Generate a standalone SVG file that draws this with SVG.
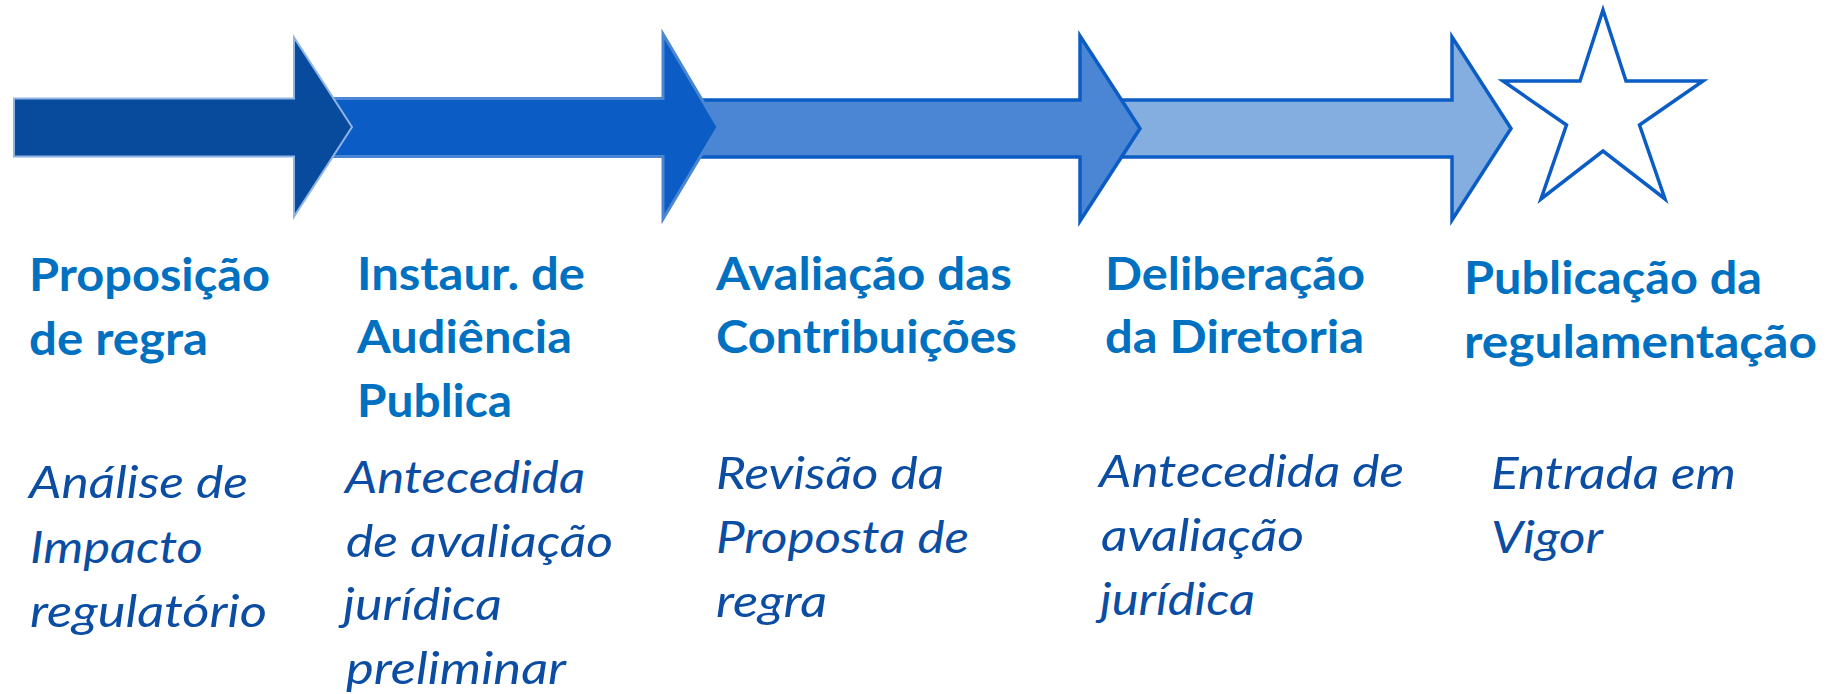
<svg xmlns="http://www.w3.org/2000/svg" width="1839" height="694" viewBox="0 0 1839 694">
<style>
.h{font-family:Lato,"Liberation Sans",sans-serif;font-weight:bold;font-size:45px;fill:#0070C0}
.d{font-family:Lato,"Liberation Sans",sans-serif;font-style:italic;font-size:45px;fill:#0B4DA2}
</style>
<rect width="1839" height="694" fill="#ffffff"/>
<g id="connectors">
<polygon id="arrow4" points="1100,100 1452,100 1452,37 1511,128.5 1452,220 1452,157 1100,157" fill="#84ADE0" stroke="#0B5CC4" stroke-width="3.5"/>
<polygon id="arrow3" points="680,100 1080,100 1080,36 1140,128.5 1080,221 1080,157 680,157" fill="#4A86D4" stroke="#0B5CC4" stroke-width="3.5"/>
<polygon id="arrow2" points="300,98.5 663,98.5 663,34 718,127 663,219 663,156.5 300,156.5" fill="#0B5CC4" stroke="#4A86D4" stroke-width="3"/>
<polygon id="arrow1" points="14,98.5 294,98.5 294,37.5 352,127 294,216.5 294,156.5 14,156.5" fill="#084A9C" stroke="#8DB4E6" stroke-width="2"/>
</g>
<g id="star">
<polygon points="1603,10 1626,81 1703,81 1639.5,125 1665,199 1603,151 1541,199 1566.5,125 1503,81 1580,81" fill="#ffffff" stroke="#0B5CC4" stroke-width="3.5"/>
</g>
<g id="step1">
<text class="h" x="29" y="291" textLength="241" lengthAdjust="spacingAndGlyphs">Proposição</text>
<text class="h" x="29" y="355" textLength="179" lengthAdjust="spacingAndGlyphs">de regra</text>
<text class="d" x="29" y="498" textLength="219" lengthAdjust="spacingAndGlyphs">Análise de</text>
<text class="d" x="30" y="563" textLength="173" lengthAdjust="spacingAndGlyphs">Impacto</text>
<text class="d" x="30" y="627" textLength="237" lengthAdjust="spacingAndGlyphs">regulatório</text>
</g>
<g id="step2">
<text class="h" x="357" y="290" textLength="228" lengthAdjust="spacingAndGlyphs">Instaur. de</text>
<text class="h" x="357" y="353" textLength="215" lengthAdjust="spacingAndGlyphs">Audiência</text>
<text class="h" x="357" y="417" textLength="155" lengthAdjust="spacingAndGlyphs">Publica</text>
<text class="d" x="345" y="493" textLength="240" lengthAdjust="spacingAndGlyphs">Antecedida</text>
<text class="d" x="346" y="557" textLength="267" lengthAdjust="spacingAndGlyphs">de avaliação</text>
<text class="d" x="343" y="620" textLength="159" lengthAdjust="spacingAndGlyphs">jurídica</text>
<text class="d" x="346" y="684" textLength="220" lengthAdjust="spacingAndGlyphs">preliminar</text>
</g>
<g id="step3">
<text class="h" x="716" y="290" textLength="296" lengthAdjust="spacingAndGlyphs">Avaliação das</text>
<text class="h" x="716" y="353" textLength="301" lengthAdjust="spacingAndGlyphs">Contribuições</text>
<text class="d" x="716" y="489" textLength="228" lengthAdjust="spacingAndGlyphs">Revisão da</text>
<text class="d" x="716" y="553" textLength="253" lengthAdjust="spacingAndGlyphs">Proposta de</text>
<text class="d" x="716" y="617" textLength="111" lengthAdjust="spacingAndGlyphs">regra</text>
</g>
<g id="step4">
<text class="h" x="1105" y="290" textLength="260" lengthAdjust="spacingAndGlyphs">Deliberação</text>
<text class="h" x="1105" y="353" textLength="259" lengthAdjust="spacingAndGlyphs">da Diretoria</text>
<text class="d" x="1099" y="487" textLength="305" lengthAdjust="spacingAndGlyphs">Antecedida de</text>
<text class="d" x="1101" y="551" textLength="203" lengthAdjust="spacingAndGlyphs">avaliação</text>
<text class="d" x="1100" y="615" textLength="155" lengthAdjust="spacingAndGlyphs">jurídica</text>
</g>
<g id="step5">
<text class="h" x="1464" y="294" textLength="298" lengthAdjust="spacingAndGlyphs">Publicação da</text>
<text class="h" x="1464" y="358" textLength="353" lengthAdjust="spacingAndGlyphs">regulamentação</text>
<text class="d" x="1491" y="489" textLength="245" lengthAdjust="spacingAndGlyphs">Entrada em</text>
<text class="d" x="1491" y="553" textLength="112" lengthAdjust="spacingAndGlyphs">Vigor</text>
</g>
</svg>
